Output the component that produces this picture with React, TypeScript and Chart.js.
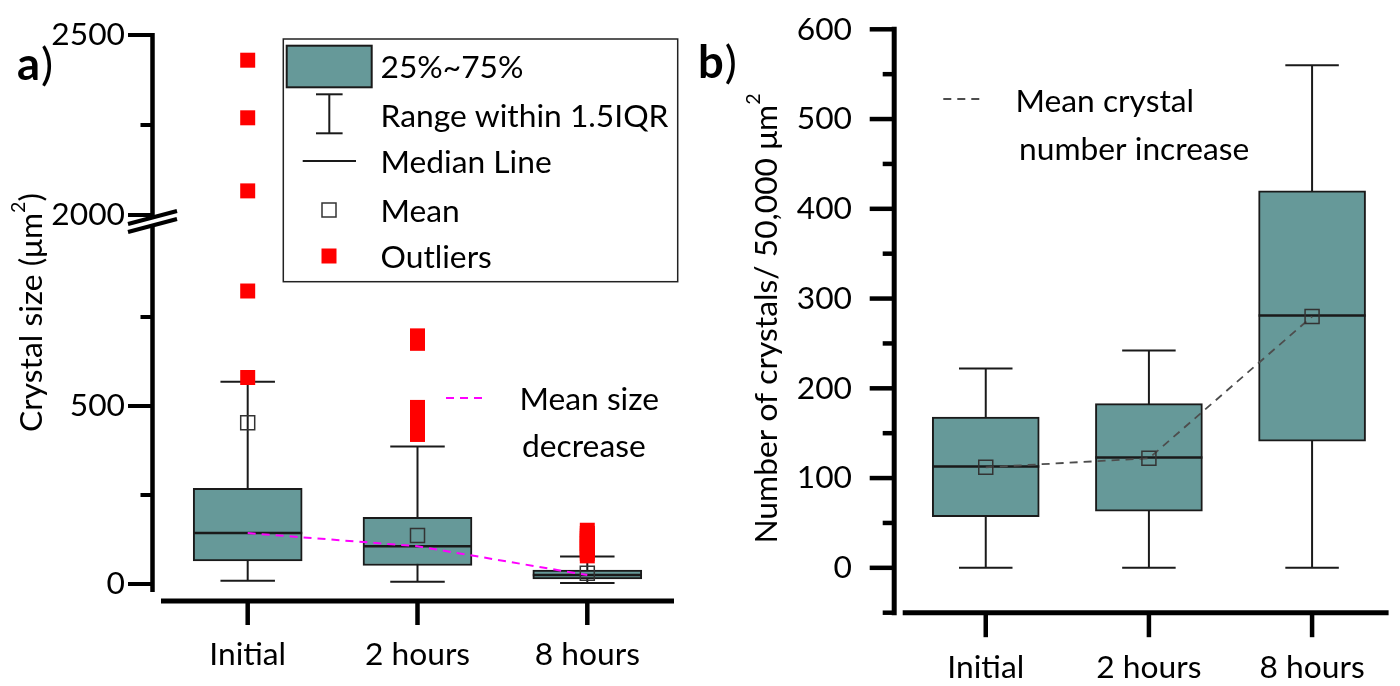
import React, { useEffect, useRef } from 'react';
import { Chart, registerables } from 'chart.js';

Chart.register(...registerables);

// ---------------- data ----------------
const categories = ['Initial', '2 hours', '8 hours'];

// a) crystal size (µm²)
const sizeQ1 = [65, 52, 14];
const sizeQ3 = [269, 187, 39];
const sizeMedian = [143, 106, 25];
const sizeMean = [453, 136, 30];
const sizeWhiskerLow = [9, 6, 3];
const sizeWhiskerHigh = [568, 386, 77];
const sizeOutliersInitial = [580, 823, 2067, 2270, 2430];
const sizeOutliers2h = [420, 428, 436, 444, 452, 460, 468, 476, 484, 490, 496, 676, 683, 690, 697];
const sizeOutliers8h = [79, 86, 93, 100, 107, 114, 121, 128, 135, 142, 151];
const sizeLowerRange = [-22.5, 1036.5];
const sizeUpperRange = [2000, 2500];
const sizeTicksLower = [0, 250, 500, 750];
const sizeTicksUpper = [2000, 2250, 2500];
const sizeTickLabels = [0, 500, 2000, 2500];

// b) number of crystals / 50,000 µm²
const countQ1 = [57, 63, 141];
const countQ3 = [168, 183, 420];
const countMedian = [113, 123, 281];
const countMean = [112, 122, 280];
const countWhiskerLow = [0, 0, 0];
const countWhiskerHigh = [222, 242, 560];
const countRange = [-50, 600];
const countTicks = [-50, 0, 50, 100, 150, 200, 250, 300, 350, 400, 450, 500, 550, 600];
const countTickLabels = [0, 100, 200, 300, 400, 500, 600];

const legendA = ['25%~75%', 'Range within 1.5IQR', 'Median Line', 'Mean', 'Outliers'];

// ---------------- style ----------------
const FONT = 'Lato';
const TEAL = '#669999';
const EDGE = '#1a1a1a';

function fitFontSize(): number {
  const c = document.createElement('canvas').getContext('2d');
  if (!c) return 32;
  c.font = `100px ${FONT}`;
  const w = c.measureText('Range within 1.5IQR').width;
  return w > 0 ? (100 * 288) / w : 32;
}

function seg(ctx: any, x1: number, y1: number, x2: number, y2: number, w: number) {
  ctx.lineWidth = w;
  ctx.beginPath();
  ctx.moveTo(x1, y1);
  ctx.lineTo(x2, y2);
  ctx.stroke();
}

function rotatedTitle(ctx: any, main: string, sup: string, tail: string, baseX: number, centerY: number, F: number) {
  ctx.save();
  ctx.translate(baseX, centerY);
  ctx.rotate(-Math.PI / 2);
  ctx.textBaseline = 'alphabetic';
  ctx.textAlign = 'left';
  const mainFont = `${F}px ${FONT}`;
  const supFont = `${F * 0.62}px ${FONT}`;
  ctx.font = mainFont;
  const w1 = ctx.measureText(main).width;
  const w3 = tail ? ctx.measureText(tail).width : 0;
  ctx.font = supFont;
  const w2 = ctx.measureText(sup).width;
  let x = -(w1 + w2 + w3) / 2;
  ctx.font = mainFont;
  ctx.fillText(main, x, 0);
  x += w1;
  ctx.font = supFont;
  ctx.fillText(sup, x, -F * 0.52);
  x += w2;
  if (tail) {
    ctx.font = mainFont;
    ctx.fillText(tail, x, 0);
  }
  ctx.restore();
}

function panelLetter(ctx: any, letter: string, x: number, baseline: number, F: number) {
  const S = (F * 50) / 35;
  ctx.save();
  ctx.fillStyle = '#000';
  ctx.textBaseline = 'alphabetic';
  ctx.textAlign = 'left';
  ctx.font = `bold ${S}px ${FONT}`;
  ctx.fillText(letter, x, baseline);
  const w = ctx.measureText(letter).width;
  ctx.font = `${S}px ${FONT}`;
  ctx.fillText(')', x + w + 1, baseline);
  ctx.restore();
}

function boxPlugin(lo: number[], hi: number[], med: number[], yId: string) {
  return {
    id: 'boxWhiskers' + yId,
    beforeDatasetsDraw(chart: any) {
      const ctx = chart.ctx;
      const xs = chart.scales.x;
      const ys = chart.scales[yId];
      const bars = chart.getDatasetMeta(0).data;
      ctx.save();
      ctx.strokeStyle = EDGE;
      lo.forEach((l, i) => {
        const cx = xs.getPixelForValue(i);
        const half = (bars[i] ? bars[i].width : 100) / 4;
        const yl = ys.getPixelForValue(l);
        const yh = ys.getPixelForValue(hi[i]);
        seg(ctx, cx, yl, cx, yh, 2);
        seg(ctx, cx - half, yl, cx + half, yl, 2);
        seg(ctx, cx - half, yh, cx + half, yh, 2);
      });
      ctx.restore();
    },
    afterDatasetDraw(chart: any, args: any) {
      if (args.meta.type !== 'bar') return;
      const ctx = chart.ctx;
      const ys = chart.scales[yId];
      ctx.save();
      ctx.strokeStyle = EDGE;
      args.meta.data.forEach((bar: any, i: number) => {
        const y = ys.getPixelForValue(med[i]);
        seg(ctx, bar.x - bar.width / 2, y, bar.x + bar.width / 2, y, 2.5);
      });
      ctx.restore();
    },
  };
}

function panelAPlugin(F: number) {
  return {
    id: 'panelA',
    afterDraw(chart: any) {
      const ctx = chart.ctx;
      const area = chart.chartArea;
      const yHi = chart.scales.yHi;
      const yLo = chart.scales.yLo;
      const xs = chart.scales.x;
      const ax = area.left - 8.5;
      const breakY = yHi.bottom;
      ctx.save();
      ctx.strokeStyle = '#000';
      ctx.fillStyle = '#000';
      ctx.lineCap = 'butt';
      // broken y axis
      seg(ctx, ax, yHi.top - 2, ax, breakY + 2.5, 4.5);
      seg(ctx, ax, breakY + 10.5, ax, area.bottom, 4.5);
      seg(ctx, ax - 24.5, breakY + 9, ax + 24.5, breakY - 4, 4);
      seg(ctx, ax - 24.5, breakY + 17, ax + 24.5, breakY + 4, 4);
      sizeTicksUpper.forEach((v) => {
        const y = yHi.getPixelForValue(v);
        const len = sizeTickLabels.includes(v) ? 24.5 : 12;
        seg(ctx, ax - len, y, ax, y, 4);
      });
      sizeTicksLower.forEach((v) => {
        const y = yLo.getPixelForValue(v);
        const len = sizeTickLabels.includes(v) ? 24.5 : 12;
        seg(ctx, ax - len, y, ax, y, 4);
      });
      // x axis
      const xy = area.bottom + 9;
      seg(ctx, area.left, xy, area.right, xy, 5);
      categories.forEach((_, i) => {
        const cx = xs.getPixelForValue(i);
        seg(ctx, cx, xy, cx, xy + 24, 4.5);
      });

      // letter + title
      panelLetter(ctx, 'a', 17, 80, F);
      rotatedTitle(ctx, 'Crystal size (μm', '2', ')', 42, 312.5, F);

      // legend box
      ctx.strokeStyle = '#222';
      ctx.lineWidth = 1.5;
      ctx.strokeRect(283.3, 39, 394.4, 242.7);
      ctx.fillStyle = TEAL;
      ctx.fillRect(286.7, 45.7, 85, 41.6);
      ctx.strokeStyle = EDGE;
      ctx.lineWidth = 2;
      ctx.strokeRect(286.7, 45.7, 85, 41.6);
      seg(ctx, 329.3, 94.3, 329.3, 133.3, 2);
      seg(ctx, 316, 94.3, 342.6, 94.3, 2);
      seg(ctx, 316, 133.3, 342.6, 133.3, 2);
      seg(ctx, 302.7, 161, 356, 161, 2);
      ctx.strokeStyle = '#333';
      ctx.lineWidth = 1.5;
      ctx.strokeRect(322, 203, 14, 14);
      ctx.fillStyle = '#ff0000';
      ctx.fillRect(321.5, 248.5, 15, 15);
      ctx.fillStyle = '#000';
      ctx.font = `${F}px ${FONT}`;
      ctx.textAlign = 'left';
      ctx.textBaseline = 'alphabetic';
      const baselines = [78.3, 126.7, 173.3, 221.7, 268.3];
      legendA.forEach((t, i) => ctx.fillText(t, 380.5, baselines[i]));

      // mean-size legend
      ctx.strokeStyle = '#ff00ff';
      ctx.setLineDash([8, 6]);
      seg(ctx, 446, 398, 484, 398, 2);
      ctx.setLineDash([]);
      ctx.fillText('Mean size', 519.5, 410);
      ctx.fillText('decrease', 522, 457.3);
      ctx.restore();
    },
  };
}

function panelBPlugin(F: number) {
  return {
    id: 'panelB',
    afterDraw(chart: any) {
      const ctx = chart.ctx;
      const area = chart.chartArea;
      const ys = chart.scales.y;
      const xs = chart.scales.x;
      const ax = area.left - 8.5;
      ctx.save();
      ctx.strokeStyle = '#000';
      ctx.fillStyle = '#000';
      ctx.lineCap = 'butt';
      seg(ctx, ax, area.top - 2.5, ax, area.bottom + 2.5, 5);
      countTicks.forEach((v) => {
        const y = ys.getPixelForValue(v);
        const len = countTickLabels.includes(v) ? 24.5 : 11.5;
        seg(ctx, ax - len, y, ax, y, 4.5);
      });
      const xy = area.bottom;
      seg(ctx, area.left, xy, area.right, xy, 5);
      categories.forEach((_, i) => {
        const cx = xs.getPixelForValue(i);
        seg(ctx, cx, xy, cx, xy + 24.5, 4.5);
      });

      panelLetter(ctx, 'b', 8, 78, F);
      rotatedTitle(ctx, 'Number of crystals/ 50,000 μm', '2', '', 87, 318.5, F);

      ctx.strokeStyle = '#4d4d4d';
      ctx.setLineDash([8, 6]);
      seg(ctx, 253.3, 99, 294, 99, 1.8);
      ctx.setLineDash([]);
      ctx.fillStyle = '#000';
      ctx.font = `${F}px ${FONT}`;
      ctx.textAlign = 'left';
      ctx.textBaseline = 'alphabetic';
      ctx.fillText('Mean crystal', 325.5, 111.7);
      ctx.fillText('number increase', 329, 160);
      ctx.restore();
    },
  };
}

function fixY(w: number) {
  return (s: any) => {
    s.width = w;
    s.paddingTop = 0;
    s.paddingBottom = 0;
    s.paddingLeft = 0;
    s.paddingRight = 0;
  };
}
function fixX(h: number) {
  return (s: any) => {
    s.height = h;
    s.paddingTop = 0;
    s.paddingBottom = 0;
    s.paddingLeft = 0;
    s.paddingRight = 0;
  };
}
function setTicks(values: number[]) {
  return (s: any) => {
    s.ticks = values.map((v) => ({ value: v }));
  };
}

function buildConfigA(F: number): any {
  const tickFont = { family: FONT, size: F, lineHeight: 1 };
  const groups = [sizeOutliersInitial, sizeOutliers2h, sizeOutliers8h];
  const outLower = groups.flatMap((g, i) => g.filter((v) => v <= sizeLowerRange[1]).map((v) => ({ x: i, y: v })));
  const outUpper = groups.flatMap((g, i) => g.filter((v) => v >= sizeUpperRange[0]).map((v) => ({ x: i, y: v })));
  const padX = 667 - 592 - 0.887 * F;
  const yCommon = {
    type: 'linear',
    position: 'left',
    stack: 'a',
    grid: { display: false, drawTicks: false },
    border: { display: false },
    afterFit: fixY(161),
  };
  return {
    type: 'bar',
    data: {
      datasets: [
        {
          type: 'bar',
          label: '25%~75%',
          data: categories.map((_, i) => ({ x: i, y: [sizeQ1[i], sizeQ3[i]] })),
          backgroundColor: TEAL,
          borderColor: EDGE,
          borderWidth: 2,
          borderSkipped: false,
          barThickness: 109,
          xAxisID: 'x',
          yAxisID: 'yLo',
          order: 4,
        },
        {
          type: 'line',
          label: 'Mean size decrease',
          data: sizeMedian.map((v, i) => ({ x: i, y: v })),
          borderColor: '#ff00ff',
          borderWidth: 2,
          borderDash: [8, 6],
          pointRadius: 0,
          fill: false,
          tension: 0,
          xAxisID: 'x',
          yAxisID: 'yLo',
          order: 3,
        },
        {
          type: 'line',
          label: 'Mean',
          data: sizeMean.map((v, i) => ({ x: i, y: v })),
          showLine: false,
          pointStyle: 'rect',
          pointRadius: 9.9,
          pointBorderWidth: 1.5,
          pointBorderColor: '#333',
          pointBackgroundColor: 'rgba(0,0,0,0)',
          xAxisID: 'x',
          yAxisID: 'yLo',
          order: 2,
        },
        {
          type: 'line',
          label: 'Outliers',
          data: outLower,
          showLine: false,
          pointStyle: 'rect',
          pointRadius: 10.6,
          pointBorderWidth: 0,
          pointBackgroundColor: '#ff0000',
          xAxisID: 'x',
          yAxisID: 'yLo',
          order: 1,
        },
        {
          type: 'line',
          label: 'Outliers (above break)',
          data: outUpper,
          showLine: false,
          pointStyle: 'rect',
          pointRadius: 10.6,
          pointBorderWidth: 0,
          pointBackgroundColor: '#ff0000',
          xAxisID: 'x',
          yAxisID: 'yHi',
          order: 1,
        },
      ],
    },
    options: {
      responsive: false,
      animation: false,
      devicePixelRatio: 1,
      events: [],
      layout: { padding: { top: 35, right: 690 - 674, left: 0, bottom: 0 } },
      plugins: { legend: { display: false }, tooltip: { enabled: false }, title: { display: false } },
      scales: {
        x: {
          type: 'linear',
          position: 'bottom',
          min: -0.5106,
          max: 2.5106,
          offset: false,
          grid: { display: false, drawTicks: false },
          border: { display: false },
          afterBuildTicks: setTicks(categories.map((_, i) => i)),
          afterFit: fixX(686 - 592),
          ticks: {
            font: tickFont,
            color: '#000',
            padding: padX,
            autoSkip: false,
            maxRotation: 0,
            callback: (v: any) => categories[v] ?? '',
          },
        },
        yHi: {
          ...yCommon,
          weight: 1,
          stackWeight: 180,
          min: sizeUpperRange[0],
          max: sizeUpperRange[1],
          afterBuildTicks: setTicks(sizeTicksUpper),
          ticks: {
            font: tickFont,
            color: '#000',
            padding: 36,
            autoSkip: false,
            callback: (v: any) => (sizeTickLabels.includes(v) ? String(v) : ''),
          },
        },
        yLo: {
          ...yCommon,
          weight: 0,
          stackWeight: 377,
          min: sizeLowerRange[0],
          max: sizeLowerRange[1],
          afterBuildTicks: setTicks(sizeTicksLower),
          ticks: {
            font: tickFont,
            color: '#000',
            padding: 36,
            autoSkip: false,
            callback: (v: any) => (sizeTickLabels.includes(v) ? String(v) : ''),
          },
        },
      },
    },
    plugins: [boxPlugin(sizeWhiskerLow, sizeWhiskerHigh, sizeMedian, 'yLo'), panelAPlugin(F)],
  };
}

function buildConfigB(F: number): any {
  const tickFont = { family: FONT, size: F, lineHeight: 1 };
  const padX = 680.5 - 612.7 - 0.887 * F;
  return {
    type: 'bar',
    data: {
      datasets: [
        {
          type: 'bar',
          label: '25%~75%',
          data: categories.map((_, i) => ({ x: i, y: [countQ1[i], countQ3[i]] })),
          backgroundColor: TEAL,
          borderColor: EDGE,
          borderWidth: 2,
          borderSkipped: false,
          barThickness: 107,
          xAxisID: 'x',
          yAxisID: 'y',
          order: 4,
        },
        {
          type: 'line',
          label: 'Mean crystal number increase',
          data: countMean.map((v, i) => ({ x: i, y: v })),
          borderColor: '#4d4d4d',
          borderWidth: 1.8,
          borderDash: [8, 6],
          pointRadius: 0,
          fill: false,
          tension: 0,
          xAxisID: 'x',
          yAxisID: 'y',
          order: 3,
        },
        {
          type: 'line',
          label: 'Mean',
          data: countMean.map((v, i) => ({ x: i, y: v })),
          showLine: false,
          pointStyle: 'rect',
          pointRadius: 9.9,
          pointBorderWidth: 1.5,
          pointBorderColor: '#333',
          pointBackgroundColor: 'rgba(0,0,0,0)',
          xAxisID: 'x',
          yAxisID: 'y',
          order: 2,
        },
      ],
    },
    options: {
      responsive: false,
      animation: false,
      devicePixelRatio: 1,
      events: [],
      layout: { padding: { top: 29.3, right: 0, left: 0, bottom: 0 } },
      plugins: { legend: { display: false }, tooltip: { enabled: false }, title: { display: false } },
      scales: {
        x: {
          type: 'linear',
          position: 'bottom',
          min: -0.509,
          max: 2.469,
          offset: false,
          grid: { display: false, drawTicks: false },
          border: { display: false },
          afterBuildTicks: setTicks(categories.map((_, i) => i)),
          afterFit: fixX(686 - 612.7),
          ticks: {
            font: tickFont,
            color: '#000',
            padding: padX,
            autoSkip: false,
            maxRotation: 0,
            callback: (v: any) => categories[v] ?? '',
          },
        },
        y: {
          type: 'linear',
          position: 'left',
          min: countRange[0],
          max: countRange[1],
          grid: { display: false, drawTicks: false },
          border: { display: false },
          afterBuildTicks: setTicks(countTicks),
          afterFit: fixY(212.7),
          ticks: {
            font: tickFont,
            color: '#000',
            padding: 50.7,
            autoSkip: false,
            callback: (v: any) => (countTickLabels.includes(v) ? String(v) : ''),
          },
        },
      },
    },
    plugins: [boxPlugin(countWhiskerLow, countWhiskerHigh, countMedian, 'y'), panelBPlugin(F)],
  };
}

export default function App() {
  const refA = useRef<HTMLCanvasElement>(null);
  const refB = useRef<HTMLCanvasElement>(null);
  useEffect(() => {
    const F = fitFontSize();
    const chartA = new Chart(refA.current as HTMLCanvasElement, buildConfigA(F));
    const chartB = new Chart(refB.current as HTMLCanvasElement, buildConfigB(F));
    return () => {
      chartA.destroy();
      chartB.destroy();
    };
  }, []);
  return (
    <div style={{ position: 'fixed', left: 0, top: 0, width: 1400, height: 686, background: '#fff', overflow: 'hidden' }}>
      <canvas ref={refA} width={690} height={686} style={{ position: 'absolute', left: 0, top: 0, width: 690, height: 686 }} />
      <canvas ref={refB} width={710} height={686} style={{ position: 'absolute', left: 690, top: 0, width: 710, height: 686 }} />
    </div>
  );
}
